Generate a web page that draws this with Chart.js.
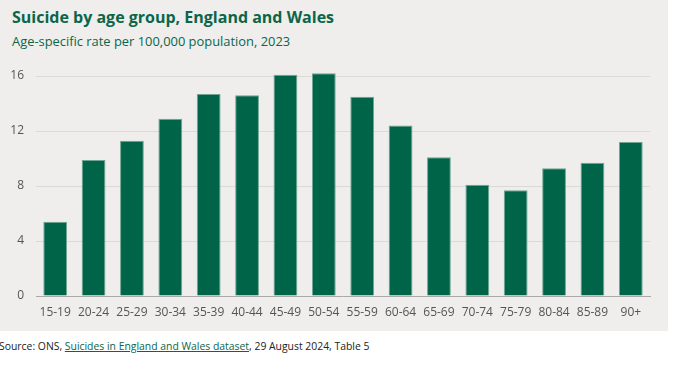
<!DOCTYPE html>
<html>
<head>
<meta charset="utf-8">
<script src="https://cdn.jsdelivr.net/npm/chart.js@4"></script>
<style>
  html, body { margin: 0; padding: 0; background: #ffffff; }
  body { width: 691px; height: 365px; position: relative; overflow: hidden; }
  #panel { position: absolute; left: 0; top: 0; width: 668px; height: 331px; background: #efeeec; }
  #title { position: absolute; left: 12px; top: 6px; font-family: "Open Sans", sans-serif; font-weight: 700; font-size: 16px; color: #0b6649; white-space: nowrap; }
  #subtitle { position: absolute; left: 12px; top: 32px; font-family: "Open Sans", sans-serif; font-size: 12.9px; color: #0b6649; white-space: nowrap; }
  #chartbox { position: absolute; left: 0; top: 50px; width: 668px; height: 281px; }
  #source { position: absolute; left: -1px; top: 339px; font-family: "Open Sans", sans-serif; font-size: 10.4px; color: #222; white-space: nowrap; }
  #source a { color: #0b6649; text-decoration: underline; }
</style>
</head>
<body>
<div id="panel"></div>
<div id="title">Suicide by age group, England and Wales</div>
<div id="subtitle">Age-specific rate per 100,000 population, 2023</div>
<div id="chartbox"><canvas id="c" width="668" height="281"></canvas></div>
<div id="source">Source: ONS, <a>Suicides in England and Wales dataset</a>, 29 August 2024, Table 5</div>
<script>
const ageGroups = ["15-19","20-24","25-29","30-34","35-39","40-44","45-49","50-54","55-59","60-64","65-69","70-74","75-79","80-84","85-89","90+"];
const rates = [5.4, 9.9, 11.3, 12.9, 14.7, 14.6, 16.1, 16.2, 14.5, 12.4, 10.1, 8.1, 7.7, 9.3, 9.7, 11.2];
const yTicks = [0, 4, 8, 12, 16];

new Chart(document.getElementById('c'), {
  type: 'bar',
  data: {
    labels: ageGroups,
    datasets: [{
      data: rates,
      backgroundColor: '#006548',
      borderColor: '#6fa592',
      borderWidth: 1,
      categoryPercentage: 1,
      barPercentage: 0.62
    }]
  },
  options: {
    responsive: false,
    animation: false,
    layout: { padding: { top: 3, right: 18, left: 0, bottom: 0 } },
    plugins: { legend: { display: false }, tooltip: { enabled: false } },
    scales: {
      x: {
        grid: { display: false, drawTicks: false },
        border: { color: '#a9a9a9', width: 1 },
        ticks: { color: '#555555', font: { family: 'Open Sans', size: 12 }, padding: 9, maxRotation: 0, autoSkip: false },
        afterFit: s => { s.height = 35; }
      },
      y: {
        min: 0, max: 16.5,
        afterBuildTicks: s => { s.ticks = yTicks.map(v => ({ value: v })); },
        grid: { color: '#dcdad6', drawTicks: false },
        border: { display: false },
        ticks: { color: '#555555', font: { family: 'Open Sans', size: 12 }, padding: 12 },
        afterFit: s => { s.width = 36; }
      }
    }
  }
});
</script>
</body>
</html>
